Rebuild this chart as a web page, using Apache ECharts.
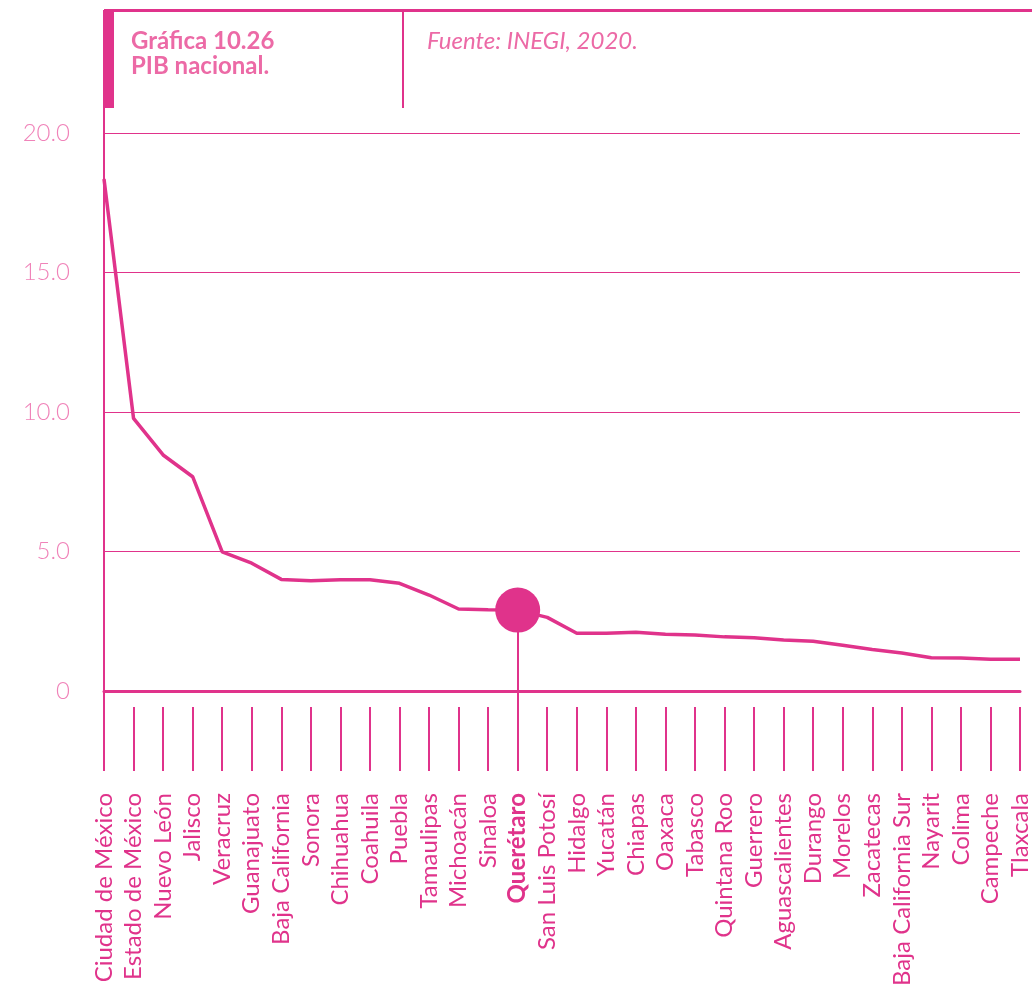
<!DOCTYPE html>
<html>
<head>
<meta charset="utf-8">
<script src="https://cdn.jsdelivr.net/npm/echarts@6/dist/echarts.min.js"></script>
<style>
  html, body { margin: 0; padding: 0; background: #fff; }
  #chart { width: 1032px; height: 996px; }
</style>
</head>
<body>
<div id="chart"></div>
<script>
const states = [
  "Ciudad de México", "Estado de México", "Nuevo León", "Jalisco", "Veracruz",
  "Guanajuato", "Baja California", "Sonora", "Chihuahua", "Coahuila", "Puebla",
  "Tamaulipas", "Michoacán", "Sinaloa", "Querétaro", "San Luis Potosí", "Hidalgo",
  "Yucatán", "Chiapas", "Oaxaca", "Tabasco", "Quintana Roo", "Guerrero",
  "Aguascalientes", "Durango", "Morelos", "Zacatecas", "Baja California Sur",
  "Nayarit", "Colima", "Campeche", "Tlaxcala"
];
const pib = [
  18.35, 9.77, 8.46, 7.68, 4.99, 4.58, 4.0, 3.95, 3.99, 3.99, 3.86,
  3.44, 2.94, 2.91, 2.9, 2.64, 2.07, 2.07, 2.11, 2.03, 2.01, 1.94, 1.91,
  1.83, 1.78, 1.64, 1.49, 1.36, 1.19, 1.18, 1.14, 1.14
];
const yTicks = [0, 5, 10, 15, 20];
const highlight = "Querétaro";

const pink = "#e0338b";
const softPink = "#ec6aa6";
const labelPink = "#f083b9";
const font = "Lato";

const hi = states.indexOf(highlight);
const chart = echarts.init(document.getElementById("chart"));

chart.setOption({
  animation: false,
  title: [
    {
      text: "Gráfica 10.26\nPIB nacional.",
      left: 131, top: 29, padding: 0,
      textStyle: { color: softPink, fontFamily: font, fontWeight: "bold", fontSize: 24, lineHeight: 25 }
    },
    {
      text: "Fuente: INEGI, 2020.",
      left: 427, top: 29, padding: 0,
      textStyle: { color: softPink, fontFamily: font, fontWeight: "normal", fontStyle: "italic", fontSize: 24, lineHeight: 25 }
    }
  ],
  grid: { left: 104, right: 4, top: 133, bottom: 305 },
  xAxis: [
    // zero line
    {
      type: "category", data: states, boundaryGap: false,
      axisLine: { lineStyle: { color: pink, width: 3 } },
      axisTick: { show: false }, axisLabel: { show: false }
    },
    // ticks + labels, pushed down a bit
    {
      type: "category", data: states, boundaryGap: false, position: "bottom", offset: 16,
      axisLine: { show: false },
      axisTick: { show: true, length: 64, lineStyle: { color: pink, width: 2 }, interval: 0 },
      axisLabel: {
        interval: 0, rotate: 90, margin: 86,
        color: pink, fontFamily: font, fontSize: 24,
        formatter: (v) => v === highlight ? "{b|" + v + "}" : v,
        rich: { b: { fontWeight: "bold", color: pink, fontFamily: font, fontSize: 24 } }
      }
    },
    // highlight tick crossing the zero line
    {
      type: "category", data: states, boundaryGap: false, position: "bottom",
      axisLine: { show: false }, axisLabel: { show: false },
      axisTick: { show: true, length: 80, lineStyle: { color: pink, width: 2 }, interval: (i) => i === hi }
    }
  ],
  yAxis: {
    type: "value", min: yTicks[0], max: yTicks[yTicks.length - 1], interval: 5,
    axisLine: { show: false }, axisTick: { show: false },
    splitLine: { lineStyle: { color: pink, width: 1 } },
    axisLabel: {
      margin: 34, color: labelPink, fontFamily: font, fontWeight: 300, fontSize: 24,
      formatter: (v) => v === 0 ? "0" : v.toFixed(1)
    }
  },
  series: [
    {
      type: "line", data: pib, symbol: "none",
      lineStyle: { color: pink, width: 3.5 },
      markPoint: {
        symbol: "circle", symbolSize: 45, label: { show: false },
        itemStyle: { color: pink },
        data: [{ coord: [highlight, pib[hi]] }]
      },
      markLine: {
        symbol: "none", label: { show: false }, silent: true,
        lineStyle: { color: pink, width: 2, type: "solid" },
        data: [[{ coord: [highlight, pib[hi]] }, { coord: [highlight, 0] }]]
      }
    }
  ],
  // frame around title
  graphic: [
    { type: "rect", shape: { x: 104, y: 9, width: 928, height: 3 }, style: { fill: pink } },
    { type: "rect", shape: { x: 103, y: 10, width: 2, height: 761 }, style: { fill: pink } },
    { type: "rect", shape: { x: 104, y: 10, width: 10, height: 98 }, style: { fill: pink } },
    { type: "rect", shape: { x: 402, y: 10, width: 2, height: 98 }, style: { fill: pink } }
  ]
});
</script>
</body>
</html>
